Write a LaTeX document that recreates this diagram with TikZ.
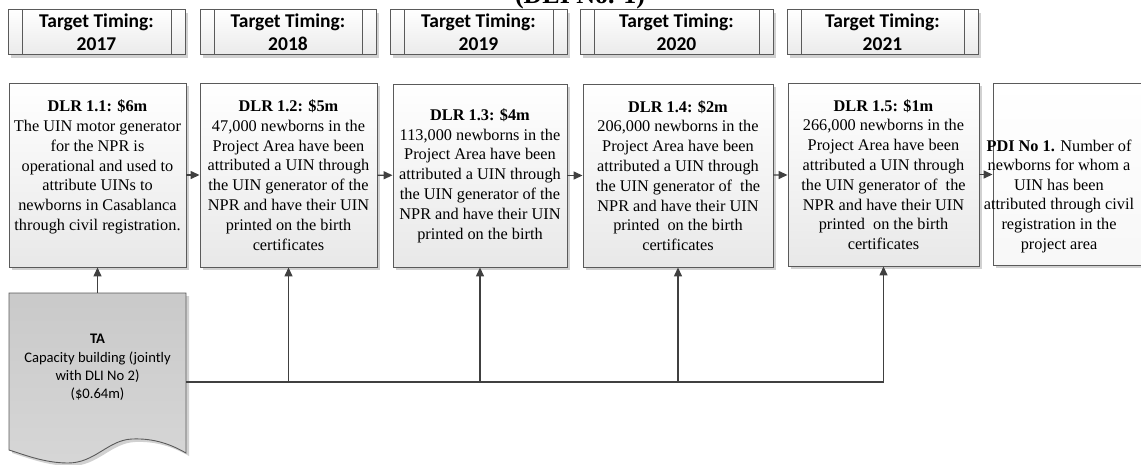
\documentclass[tikz,border=0pt]{standalone}
\usepackage{fontspec}
\setmainfont{Liberation Serif}
\newfontfamily\calibri{Carlito}
\usetikzlibrary{arrows.meta,shadows,calc}

\definecolor{edge}{HTML}{5A5A5A}
\definecolor{wire}{HTML}{404040}

\tikzset{
  boxshadow/.style={drop shadow={shadow xshift=3pt, shadow yshift=-3pt, fill=black!18, opacity=1}},
  dlr/.style={draw=edge, line width=0.9pt, top color=white, bottom color=black!9,
    boxshadow, inner sep=0pt, align=center,
    font=\fontsize{16.3}{19.8}\selectfont},
  timing/.style={draw=edge, line width=0.9pt, top color=white, bottom color=black!8,
    boxshadow, inner sep=0pt, align=center,
    font=\calibri\bfseries\fontsize{19.5}{23.5}\selectfont,
    path picture={
      \draw[edge, line width=0.9pt]
        ([xshift=14pt]path picture bounding box.north west) --
        ([xshift=14pt]path picture bounding box.south west)
        ([xshift=-14pt]path picture bounding box.north east) --
        ([xshift=-14pt]path picture bounding box.south east);
    }},
  docshape/.style={draw=edge, line width=0.9pt, top color=black!21, bottom color=black!16, boxshadow},
  arrow/.style={draw=wire, line width=1.4pt, -{Triangle[length=9pt,width=8pt]}},
  wireline/.style={draw=wire, line width=1.4pt},
}

\begin{document}
\begin{tikzpicture}[x=1pt,y=-1pt]
\useasboundingbox (0,0) rectangle (1141,464);

% heading, mostly above the page edge
\node[font=\bfseries\fontsize{26}{30}\selectfont, anchor=base, inner sep=0pt] (title) at (580,3) {(DLI No. 1)};

% target timing banners
\node[timing, minimum width=177pt, minimum height=45pt] (t1) at (96.5,32) {Target Timing:\\2017};
\node[timing, minimum width=176pt, minimum height=45pt] (t2) at (288,32) {Target Timing:\\2018};
\node[timing, minimum width=177pt, minimum height=45pt] (t3) at (478.5,32) {Target Timing:\\2019};
\node[timing, minimum width=193pt, minimum height=45pt] (t4) at (676.5,32) {Target Timing:\\2020};
\node[timing, minimum width=191pt, minimum height=45pt] (t5) at (882.5,32) {Target Timing:\\2021};

% results
\node[dlr, minimum width=177pt, minimum height=184pt] (b1) at (97.5,175)
  {\textbf{DLR 1.1: \$6m}\\The UIN motor generator\\for the NPR is\\operational and used to\\attribute UINs to\\newborns in Casablanca\\through civil registration.\\\mbox{}};
\node[dlr, minimum width=177pt, minimum height=184pt] (b2) at (288.5,175)
  {\textbf{DLR 1.2: \$5m}\\47,000 newborns in the\\Project Area have been\\attributed a UIN through\\the UIN generator of the\\NPR and have their UIN\\printed on the birth\\certificates};
\node[dlr, minimum width=174pt, minimum height=183pt] (b3) at (480,175.5)
  {\textbf{DLR 1.3: \$4m}\\113,000 newborns in the\\Project Area have been\\attributed a UIN through\\the UIN generator of the\\NPR and have their UIN\\printed on the birth};
\node[dlr, minimum width=190pt, minimum height=183pt] (b4) at (678,175.5)
  {\textbf{DLR 1.4: \$2m}\\206,000 newborns in the\\Project Area have been\\attributed a UIN through\\the UIN generator of\ \ the\\NPR and have their UIN\\printed\ \ on the birth\\certificates};
\node[dlr, minimum width=191pt, minimum height=183pt] (b5) at (883.5,174.5)
  {\textbf{DLR 1.5: \$1m}\\266,000 newborns in the\\Project Area have been\\attributed a UIN through\\the UIN generator of\ \ the\\NPR and have their UIN\\printed\ \ on the birth\\certificates};
\node[dlr, top color=white, bottom color=black!3, minimum width=170pt, minimum height=182pt] (pdi) at (1078,174) {};
\node[align=center, inner sep=0pt, font=\fontsize{16.3}{19.6}\selectfont] (pditext) at (1059,196)
  {\textbf{PDI No 1.} Number of\\newborns for whom a\\UIN has been\\attributed through civil\\registration in the\\project area};

% technical assistance document
\path[docshape] (9,293) -- (186,293) -- (186,453)
  .. controls (172,445) and (155,438) .. (132,439)
  .. controls (108,440) and (95,463) .. (68,463)
  .. controls (45,463) and (25,455) .. (9,450) -- cycle;
\node[align=center, inner sep=0pt, minimum width=177pt, minimum height=149pt,
  font=\calibri\fontsize{14.6}{18.3}\selectfont] (ta) at (97.5,367.5)
  {\textbf{TA}\\Capacity building (jointly\\with DLI No 2)\\(\$0.64m)};

% sequence of results
\draw[arrow] (b1) -- (b2);
\draw[arrow] (b2) -- (b3);
\draw[arrow] (b3) -- (b4);
\draw[arrow] (b4) -- (b5);
\draw[arrow] (b5.east) -- (pdi.west |- b5.east);

% support from technical assistance
\coordinate (busend) at (b5.south |- 0,382);
\draw[arrow] (ta.north) -- (b1.south);
\draw[wireline] (ta.east |- busend) -- (busend);
\draw[arrow] (b2.south |- busend) -- (b2.south);
\draw[arrow] (b3.south |- busend) -- (b3.south);
\draw[arrow] (b4.south |- busend) -- (b4.south);
\draw[arrow] (busend) -- (b5.south);
\end{tikzpicture}
\end{document}
